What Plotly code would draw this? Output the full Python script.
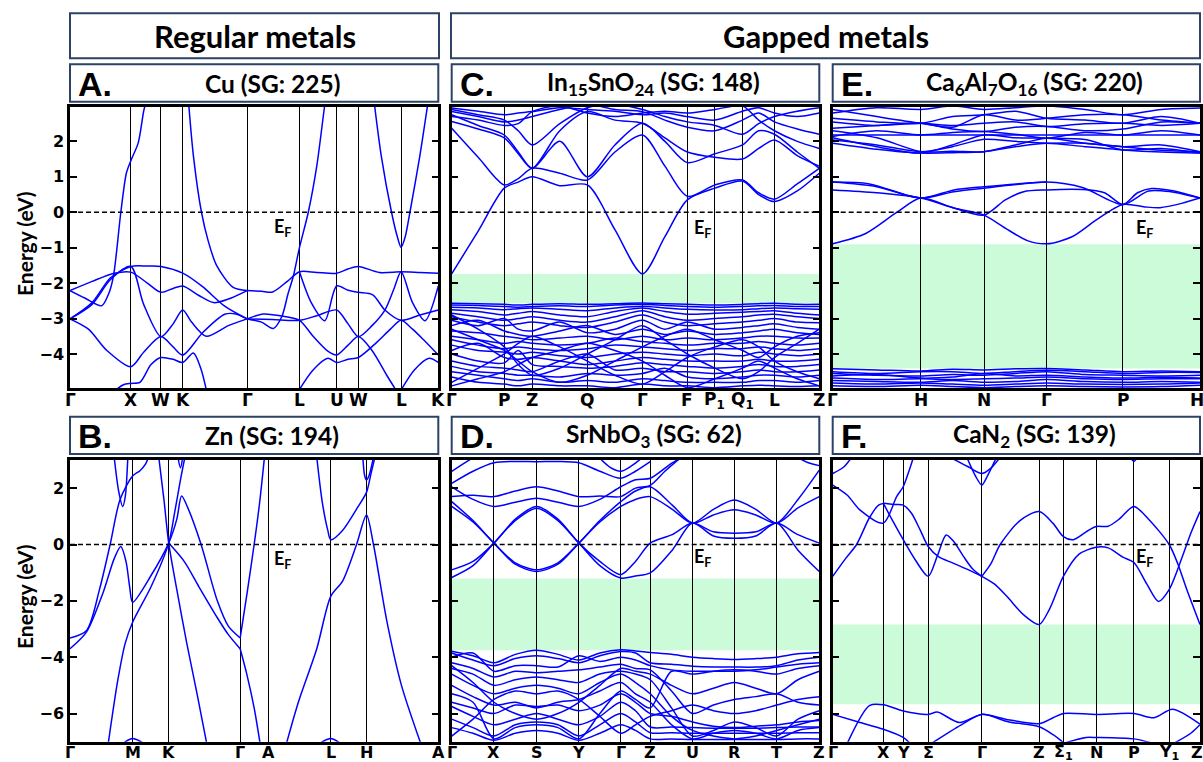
import plotly.graph_objects as go

W, H = 1203, 762
BAND_COLOR = "#0000ff"
GAP_COLOR = "#ccfbd9"
BOX_COLOR = "#2c4266"

# ---------------- A. Cu (SG: 225) ----------------
A_TICKS = [0.0, 0.165, 0.247, 0.306, 0.481, 0.623, 0.724, 0.783, 0.899, 1.0]
A_LABELS = ["Γ", "X", "W", "K", "Γ", "L", "U", "W", "L", "K"]
A_BANDS = [
    [(0, -2.21), (0.04, -2.42), (0.086, -2.64), (0.105, -2.3), (0.118, -1.8), (0.138, 0.0), (0.153, 1.1), (0.165, 1.45), (0.185, 1.95), (0.2, 2.85), (0.206, 3.1)],
    [(0, -2.21), (0.06, -1.95), (0.12, -1.72), (0.165, -1.69), (0.21, -2.0), (0.247, -2.26), (0.28, -2.15), (0.306, -2.08), (0.35, -2.35), (0.39, -2.55), (0.43, -2.45), (0.481, -2.21)],
    [(0, -3.01), (0.06, -2.55), (0.11, -1.85), (0.165, -1.53), (0.21, -1.52), (0.247, -1.53), (0.306, -1.72), (0.36, -2.1), (0.42, -2.65), (0.481, -3.01)],
    [(0, -3.01), (0.06, -2.6), (0.11, -1.9), (0.165, -1.53), (0.2, -2.6), (0.247, -3.51), (0.28, -3.15), (0.306, -2.76), (0.33, -3.1), (0.37, -3.5), (0.43, -3.2), (0.481, -3.01)],
    [(0, -3.01), (0.05, -3.3), (0.1, -3.9), (0.165, -4.36), (0.2, -3.95), (0.247, -3.51), (0.28, -3.8), (0.306, -4.03), (0.36, -3.4), (0.42, -2.88), (0.45, -2.87), (0.481, -3.01)],
    [(0.12, -5.05), (0.145, -4.87), (0.165, -4.83), (0.19, -4.8), (0.22, -4.3), (0.247, -4.1), (0.28, -4.15), (0.306, -4.24), (0.335, -3.97), (0.355, -4.4), (0.372, -5.1)],
    [(0.322, 3.1), (0.335, 1.6), (0.357, 0.0), (0.375, -0.8), (0.398, -1.5), (0.443, -2.12), (0.481, -2.21)],
    [(0.481, -2.21), (0.52, -2.23), (0.55, -2.25), (0.59, -1.95), (0.623, -1.68), (0.67, -1.7), (0.724, -1.72), (0.755, -1.6), (0.783, -1.53), (0.84, -1.7), (0.899, -1.68), (0.95, -1.7), (1.0, -1.72)],
    [(0.481, -3.01), (0.525, -2.87), (0.57, -2.92), (0.623, -3.05), (0.66, -3.5), (0.7, -3.92), (0.724, -4.03), (0.755, -3.75), (0.783, -3.51), (0.82, -3.9), (0.86, -4.6), (0.89, -5.1)],
    [(0.481, -3.01), (0.52, -3.1), (0.552, -3.28), (0.575, -2.95), (0.592, -2.3), (0.606, -1.82), (0.623, -1.0), (0.647, 0.0), (0.67, 1.3), (0.692, 3.05), (0.696, 3.3)],
    [(0.481, -3.01), (0.55, -3.03), (0.623, -3.05), (0.67, -2.92), (0.724, -2.76), (0.755, -3.15), (0.783, -3.51), (0.82, -3.2), (0.855, -2.76), (0.88, -2.15), (0.899, -1.68), (0.93, -2.55), (0.964, -3.06), (1.0, -2.08)],
    [(0.623, -1.68), (0.655, -2.55), (0.692, -3.06), (0.724, -2.08), (0.755, -2.2), (0.783, -2.26), (0.822, -2.33), (0.855, -2.76), (0.899, -3.05), (0.95, -2.9), (1.0, -2.76)],
    [(0.62, -5.05), (0.66, -4.45), (0.7, -4.12), (0.724, -4.24), (0.755, -4.15), (0.783, -4.1), (0.83, -3.7), (0.87, -3.3), (0.899, -3.05), (0.93, -3.3), (0.96, -3.6), (1.0, -4.03)],
    [(0.897, -5.05), (0.935, -4.45), (0.975, -4.12), (1.0, -4.24)],
    [(0.826, 3.1), (0.845, 1.6), (0.873, 0.0), (0.889, -0.7), (0.899, -0.99), (0.91, -0.7), (0.923, 0.0), (0.95, 1.6), (0.972, 3.1)],
]

# ---------------- B. Zn (SG: 194) ----------------
B_TICKS = [0.0, 0.170, 0.268, 0.462, 0.539, 0.708, 0.805, 1.0]
B_LABELS = ["Γ", "M", "K", "Γ", "A", "L", "H", "A"]
B_BANDS = [
    [(0, -3.32), (0.045, -3.05), (0.08, -1.6), (0.109, 0.0), (0.136, 1.6), (0.170, 2.43), (0.19, 2.62), (0.205, 2.85), (0.213, 3.1)],
    [(0, -3.70), (0.045, -3.1), (0.09, -1.7), (0.12, -0.5), (0.138, -0.07), (0.152, -0.6), (0.162, -1.5), (0.170, -2.05), (0.22, -1.1), (0.268, 0.05), (0.29, 0.9), (0.303, 1.72), (0.32, 1.3), (0.356, 0.0), (0.40, -2.0), (0.43, -2.9), (0.462, -3.32)],
    [(0.104, -7.05), (0.13, -4.8), (0.150, -3.5), (0.170, -2.76), (0.22, -1.5), (0.268, 0.05), (0.285, 1.2), (0.3, 2.3), (0.312, 3.1)],
    [(0.12, 3.1), (0.132, 1.9), (0.143, 1.35), (0.15, 1.7), (0.157, 3.1)],
    [(0.241, 3.1), (0.255, 1.6), (0.268, 0.05), (0.29, -1.6), (0.317, -3.5), (0.345, -5.3), (0.371, -7.05)],
    [(0.268, 0.05), (0.31, -0.6), (0.35, -1.5), (0.40, -2.6), (0.43, -3.2), (0.462, -3.70)],
    [(0.293, 3.1), (0.3, 2.72), (0.306, 3.1)],
    [(0.462, -3.32), (0.48, -1.8), (0.5, 0.0), (0.515, 1.5), (0.528, 3.1)],
    [(0.462, -3.70), (0.48, -4.6), (0.5, -5.8), (0.516, -7.05)],
    [(0.67, 3.1), (0.685, 1.5), (0.7, 0.5), (0.708, 0.17), (0.74, 0.5), (0.78, 1.3), (0.805, 1.85), (0.817, 2.5), (0.828, 3.1)],
    [(0.588, -7.05), (0.62, -5.6), (0.67, -3.7), (0.708, -1.84), (0.74, -1.3), (0.778, 0.0), (0.805, 1.05), (0.824, 0.0), (0.86, -2.7), (0.9, -5.0), (0.952, -7.05)],
    [(0.795, 3.1), (0.8, 2.45), (0.805, 2.29), (0.812, 2.45), (0.824, 3.1)],
    [(0.145, -7.05), (0.17, -6.89), (0.199, -7.05)],
    [(0.679, -7.05), (0.708, -6.89), (0.733, -7.05)],
]

# ---------------- C. In15SnO24 (SG: 148) ----------------
C_TICKS = [0.0, 0.143, 0.219, 0.369, 0.519, 0.641, 0.716, 0.791, 0.878, 1.0]
C_LABELS = ["Γ", "P", "Z", "Q", "Γ", "F", "P<sub>1</sub>", "Q<sub>1</sub>", "L", "Z"]
C_GRID = [0, 0.072, 0.143, 0.181, 0.219, 0.294, 0.369, 0.444, 0.519, 0.58, 0.641, 0.716, 0.791, 0.835, 0.878, 0.94, 1.0]
C_CONDUCTION = [
    [-1.74, -0.53, 0.68, 0.85, 1.0, 0.75, 0.77, -0.49, -1.74, -0.69, 0.35, 0.68, 0.88, 0.5, 0.30, 0.6, 1.1],
    [2.37, 1.55, 0.77, 0.95, 1.24, 1.1, 0.91, 1.7, 2.18, 1.3, 0.45, 0.77, 0.91, 0.55, 0.37, 0.8, 1.24],
    [2.75, 2.45, 2.18, 1.7, 1.24, 2.0, 1.0, 1.9, 2.51, 2.0, 1.4, 1.65, 1.9, 2.3, 2.2, 1.7, 1.24],
    [2.56, 2.35, 2.1, 1.65, 1.24, 2.3, 2.84, 2.6, 2.51, 2.1, 1.7, 1.55, 1.5, 1.8, 2.04, 1.6, 1.3],
    [2.84, 2.7, 2.55, 2.6, 2.7, 2.9, 3.05, 2.9, 2.84, 2.6, 2.4, 2.3, 2.6, 2.8, 2.55, 2.35, 2.2],
    [2.94, 2.85, 2.75, 2.8, 2.84, 2.95, 2.9, 2.85, 2.75, 2.8, 2.7, 2.6, 2.85, 2.95, 2.8, 2.7, 2.8],
    [2.9, 2.75, 2.6, 2.3, 1.9, 2.5, 2.95, 3.05, 2.9, 2.7, 2.55, 2.45, 2.2, 2.5, 2.7, 2.85, 2.95],
    [2.7, 2.6, 2.45, 2.5, 2.84, 3.0, 2.8, 2.7, 2.8, 2.85, 2.8, 2.9, 3.0, 2.6, 2.3, 2.0, 1.8],
]
C_VALENCE = [
    [-2.57, -2.58, -2.6, -2.62, -2.6, -2.58, -2.6, -2.58, -2.56, -2.58, -2.6, -2.62, -2.6, -2.58, -2.57, -2.6, -2.6],
    [-2.62, -2.63, -2.66, -2.68, -2.66, -2.64, -2.66, -2.62, -2.6, -2.63, -2.66, -2.68, -2.66, -2.64, -2.63, -2.66, -2.66],
    [-2.68, -2.7, -2.75, -2.72, -2.7, -2.74, -2.78, -2.7, -2.65, -2.7, -2.74, -2.76, -2.75, -2.72, -2.7, -2.72, -2.74],
    [-2.75, -2.8, -2.9, -2.85, -2.8, -2.9, -2.95, -2.8, -2.7, -2.8, -2.88, -2.85, -2.82, -2.8, -2.78, -2.85, -2.9],
    [-2.85, -2.95, -3.05, -3.0, -2.95, -3.05, -3.1, -2.95, -2.78, -2.95, -3.05, -3.0, -2.95, -2.9, -2.88, -2.95, -3.0],
    [-2.95, -3.1, -3.2, -3.15, -3.1, -3.2, -3.25, -3.1, -2.9, -3.1, -3.2, -3.15, -3.1, -3.05, -3.0, -3.1, -3.12],
    [-3.05, -3.2, -3.0, -3.3, -3.35, -3.1, -3.4, -3.3, -3.05, -3.3, -3.1, -3.3, -3.25, -3.2, -3.15, -3.25, -3.3],
    [-3.2, -3.05, -3.35, -3.45, -3.5, -3.35, -3.2, -3.45, -3.3, -3.45, -3.35, -3.45, -3.4, -3.35, -3.3, -3.4, -3.45],
    [-3.35, -3.4, -3.5, -3.55, -3.6, -3.55, -3.5, -3.6, -3.5, -3.6, -3.55, -3.6, -3.55, -3.5, -3.5, -3.55, -3.55],
    [-3.5, -3.6, -3.7, -3.65, -3.7, -3.75, -3.7, -3.55, -3.65, -3.7, -3.75, -3.7, -3.7, -3.65, -3.7, -3.75, -3.7],
    [-3.6, -3.75, -3.85, -3.8, -3.85, -3.9, -3.85, -3.75, -3.8, -3.85, -3.9, -3.85, -3.85, -3.8, -3.85, -3.9, -3.85],
    [-3.75, -3.9, -3.95, -4.0, -3.95, -4.05, -4.1, -4.0, -3.95, -4.0, -4.05, -4.0, -4.05, -3.95, -4.0, -4.05, -4.0],
    [-3.9, -3.7, -4.1, -4.15, -4.1, -4.2, -4.3, -4.2, -4.1, -4.15, -4.2, -4.2, -4.2, -4.15, -4.2, -4.2, -4.15],
    [-4.0, -4.2, -4.25, -3.9, -4.3, -4.35, -4.4, -4.35, -4.25, -4.3, -4.35, -4.4, -4.35, -4.3, -4.35, -4.35, -4.3],
    [-4.2, -4.35, -4.4, -4.45, -4.5, -4.2, -4.0, -4.45, -4.4, -4.5, -4.5, -4.55, -4.5, -4.45, -4.5, -4.5, -4.45],
    [-4.35, -4.5, -4.55, -4.6, -4.6, -4.65, -4.55, -4.6, -4.55, -4.4, -4.65, -4.7, -4.65, -4.6, -4.6, -4.65, -4.6],
    [-4.5, -4.6, -4.7, -4.75, -4.7, -4.8, -4.75, -4.8, -4.7, -4.75, -4.8, -4.8, -4.8, -4.75, -4.75, -4.8, -4.75],
    [-4.65, -4.8, -4.85, -4.9, -4.85, -4.9, -4.9, -4.95, -4.85, -4.9, -4.9, -4.95, -4.9, -4.88, -4.9, -4.92, -4.9],
    [-3.3, -3.6, -3.9, -4.2, -4.5, -4.8, -4.6, -4.2, -3.8, -3.5, -3.3, -3.6, -3.9, -4.1, -3.8, -3.5, -3.4],
    [-4.8, -4.4, -4.0, -3.7, -3.5, -3.8, -4.2, -4.6, -4.85, -4.5, -4.1, -3.8, -3.6, -3.8, -4.2, -4.5, -4.7],
    [-2.9, -3.3, -3.8, -4.3, -4.6, -4.4, -4.0, -3.6, -3.2, -3.6, -4.0, -4.4, -4.7, -4.5, -4.1, -3.7, -3.3],
    [-4.9, -4.7, -4.5, -4.3, -4.1, -3.9, -3.7, -3.9, -4.2, -4.6, -4.95, -4.7, -4.4, -4.2, -4.4, -4.7, -4.9],
]

# ---------------- D. SrNbO3 (SG: 62) ----------------
D_TICKS = [0.0, 0.115, 0.231, 0.346, 0.460, 0.540, 0.655, 0.769, 0.884, 1.0]
D_LABELS = ["Γ", "X", "S", "Y", "Γ", "Z", "U", "R", "T", "Z"]
D_BANDS = [
    [(0, -1.17), (0.058, -0.75), (0.115, 0.05), (0.173, 0.85), (0.231, 1.29), (0.289, 0.85), (0.346, 0.05), (0.403, -0.75), (0.46, -1.19), (0.50, -1.12), (0.54, -1.01), (0.60, -0.2), (0.655, 0.76), (0.712, 0.3), (0.769, 0.22), (0.827, 0.3), (0.884, 0.76), (0.942, -0.2), (1.0, -0.96)],
    [(0, -0.90), (0.058, -0.6), (0.115, 0.05), (0.173, 0.9), (0.231, 1.35), (0.289, 0.9), (0.346, 0.05), (0.403, -0.6), (0.46, -1.07), (0.50, -0.6), (0.54, 0.05), (0.60, 0.35), (0.655, 0.76), (0.712, 0.45), (0.769, 0.40), (0.827, 0.45), (0.884, 0.76), (0.942, 0.35), (1.0, 0.05)],
    [(0, 1.35), (0.058, 0.8), (0.115, 0.05), (0.173, -0.7), (0.231, -0.96), (0.289, -0.7), (0.346, 0.05), (0.403, 0.8), (0.46, 1.35), (0.50, 1.6), (0.54, 1.7), (0.60, 1.25), (0.655, 0.76), (0.712, 1.25), (0.769, 1.58), (0.827, 1.25), (0.884, 0.76), (0.942, 1.3), (1.0, 1.70)],
    [(0, 1.52), (0.058, 0.85), (0.115, 0.05), (0.173, -0.65), (0.231, -0.9), (0.289, -0.65), (0.346, 0.05), (0.403, 0.85), (0.46, 1.52), (0.50, 1.9), (0.54, 2.05), (0.60, 1.4), (0.655, 0.76), (0.712, 1.05), (0.769, 1.23), (0.827, 1.05), (0.884, 0.76), (0.942, 1.6), (1.0, 2.64)],
    [(0, 1.7), (0.058, 1.75), (0.115, 1.7), (0.173, 1.9), (0.231, 2.05), (0.289, 1.9), (0.346, 1.7), (0.403, 1.72), (0.46, 1.7), (0.50, 2.0), (0.54, 2.1), (0.58, 2.6), (0.62, 3.05)],
    [(0, 2.05), (0.058, 1.6), (0.115, 1.35), (0.173, 1.5), (0.231, 1.64), (0.289, 1.5), (0.346, 1.35), (0.403, 1.6), (0.46, 2.05), (0.50, 2.3), (0.54, 2.35), (0.60, 2.9), (0.63, 3.1)],
    [(0, 2.17), (0.058, 2.6), (0.115, 2.9), (0.173, 2.95), (0.231, 2.94), (0.289, 2.95), (0.346, 2.9), (0.403, 2.6), (0.46, 2.35), (0.50, 2.6), (0.54, 2.94)],
    [(0, 2.6), (0.03, 2.85), (0.06, 3.1)],
    [(0.40, 3.1), (0.43, 2.75), (0.46, 2.6), (0.49, 2.8), (0.52, 3.1)],
    [(0.94, 3.1), (0.97, 2.9), (1.0, 2.8)],
]
D_GRID = [0, 0.058, 0.115, 0.173, 0.231, 0.289, 0.346, 0.403, 0.46, 0.50, 0.54, 0.598, 0.655, 0.712, 0.769, 0.827, 0.884, 0.942, 1.0]
D_VALENCE = [
    [-3.79, -3.95, -4.2, -3.9, -3.75, -3.9, -4.1, -3.85, -3.74, -3.78, -3.83, -3.9, -4.0, -4.05, -4.08, -4.05, -4.0, -3.88, -3.83],
    [-3.85, -4.1, -4.3, -4.05, -3.95, -4.05, -4.2, -3.95, -3.8, -3.85, -4.2, -4.25, -4.32, -4.35, -4.35, -4.35, -4.3, -4.1, -4.0],
    [-4.0, -3.85, -4.5, -4.3, -4.3, -4.35, -3.95, -4.15, -4.0, -4.1, -4.3, -4.45, -4.5, -4.5, -4.5, -4.45, -4.35, -4.25, -4.2],
    [-4.2, -4.4, -4.7, -4.5, -4.55, -4.5, -4.45, -4.35, -4.25, -4.4, -4.45, -5.2, -6.0, -5.7, -5.5, -5.4, -5.3, -5.6, -5.7],
    [-4.4, -4.6, -5.0, -4.8, -4.7, -4.8, -4.9, -4.6, -4.5, -4.6, -4.8, -5.8, -6.8, -6.6, -6.3, -6.5, -6.8, -6.2, -5.9],
    [-4.6, -5.0, -5.3, -5.1, -5.0, -5.1, -5.3, -4.9, -4.6, -4.9, -5.3, -6.1, -6.6, -6.8, -6.9, -6.8, -6.6, -6.4, -6.2],
    [-5.0, -5.4, -5.7, -5.6, -5.8, -5.6, -5.5, -5.2, -4.9, -5.3, -5.6, -6.4, -6.9, -6.7, -6.6, -6.7, -6.9, -6.6, -6.5],
    [-5.6, -5.8, -6.0, -5.7, -5.75, -5.7, -5.9, -5.7, -5.3, -5.6, -6.0, -6.1, -6.3, -6.45, -6.5, -6.45, -6.4, -6.3, -6.25],
    [-5.75, -6.1, -6.4, -6.2, -6.0, -6.2, -6.4, -6.1, -5.6, -5.9, -6.48, -6.48, -6.5, -6.52, -6.52, -6.52, -6.5, -6.48, -6.48],
    [-6.2, -6.5, -6.8, -6.4, -6.3, -6.4, -6.8, -6.4, -6.0, -6.3, -6.68, -6.68, -6.7, -6.7, -6.7, -6.7, -6.7, -6.68, -6.68],
    [-6.5, -6.7, -6.95, -6.7, -6.6, -6.7, -6.95, -6.7, -6.4, -6.6, -6.9, -6.9, -6.92, -6.92, -6.92, -6.92, -6.92, -6.9, -6.9],
    [-4.3, -4.9, -5.6, -6.0, -6.2, -6.0, -5.6, -5.0, -4.4, -4.5, -4.6, -5.0, -5.3, -5.1, -4.9, -5.1, -5.3, -4.8, -4.5],
    [-6.8, -6.2, -5.5, -5.2, -5.3, -5.2, -5.5, -6.1, -6.7, -6.4, -6.1, -5.9, -5.7, -5.9, -6.0, -5.9, -5.7, -5.5, -5.4],
    [-5.3, -5.6, -6.9, -6.5, -6.4, -6.5, -6.9, -6.0, -5.2, -5.5, -5.8, -4.5, -4.6, -4.5, -4.45, -4.5, -4.6, -4.4, -4.3],
]

# ---------------- E. Ca6Al7O16 (SG: 220) ----------------
E_TICKS = [0.0, 0.240, 0.412, 0.583, 0.790, 1.0]
E_LABELS = ["Γ", "H", "N", "Γ", "P", "H"]
E_BANDS = [
    [(0, -0.89), (0.09, -0.6), (0.175, 0.0), (0.240, 0.40), (0.33, 0.12), (0.412, -0.08), (0.47, -0.45), (0.53, -0.8), (0.583, -0.89), (0.65, -0.7), (0.72, -0.2), (0.790, 0.22), (0.85, 0.15), (0.891, 0.13), (0.95, 0.25), (1.0, 0.40)],
    [(0, 0.63), (0.12, 0.55), (0.240, 0.40), (0.33, 0.12), (0.412, -0.08), (0.47, 0.35), (0.52, 0.58), (0.583, 0.63), (0.68, 0.64), (0.74, 0.55), (0.790, 0.22), (0.83, 0.55), (0.868, 0.67), (0.93, 0.6), (1.0, 0.40)],
    [(0, 0.85), (0.12, 0.72), (0.240, 0.40), (0.33, 0.58), (0.412, 0.68), (0.5, 0.78), (0.583, 0.85), (0.68, 0.7), (0.790, 0.22), (0.86, 0.6), (0.92, 0.58), (1.0, 0.40)],
    [(0, 0.85), (0.1, 0.8), (0.240, 0.40), (0.33, 0.63), (0.412, 0.72), (0.5, 0.8), (0.583, 0.85)],
]
E_GRID = [0, 0.12, 0.24, 0.326, 0.412, 0.4975, 0.583, 0.6865, 0.79, 0.895, 1.0]
E_UPPER = [
    [2.8, 2.95, 2.9, 3.0, 2.9, 2.95, 3.0, 2.9, 2.75, 2.9, 2.94],
    [2.65, 2.55, 2.51, 2.7, 2.75, 2.85, 2.65, 2.6, 2.51, 2.7, 2.51],
    [2.55, 2.45, 2.51, 2.45, 2.51, 2.55, 2.42, 2.5, 2.51, 2.45, 2.51],
    [2.37, 2.45, 2.51, 2.35, 2.28, 2.4, 2.42, 2.3, 2.35, 2.55, 2.51],
    [2.18, 2.18, 2.18, 2.18, 2.18, 2.18, 2.18, 2.18, 2.18, 2.18, 2.18],
    [2.14, 2.3, 2.18, 2.25, 2.28, 2.2, 2.09, 2.25, 2.18, 2.3, 2.18],
    [2.04, 1.9, 1.71, 1.85, 2.06, 2.0, 1.95, 1.95, 1.85, 1.9, 1.71],
    [2.1, 1.85, 1.67, 1.9, 2.18, 2.1, 2.09, 2.05, 1.76, 1.8, 1.67],
    [2.3, 2.1, 1.71, 1.72, 1.71, 1.9, 2.09, 1.95, 1.85, 1.75, 1.71],
    [1.95, 1.78, 1.67, 1.68, 1.71, 1.85, 1.95, 1.85, 1.76, 1.7, 1.67],
    [2.9, 2.7, 2.51, 2.4, 2.75, 2.6, 2.65, 2.75, 2.75, 2.6, 2.51],
]
E_LOWER = [
    [-4.42, -4.45, -4.48, -4.43, -4.45, -4.42, -4.41, -4.45, -4.5, -4.48, -4.5],
    [-4.5, -4.55, -4.5, -4.5, -4.55, -4.5, -4.46, -4.5, -4.55, -4.52, -4.52],
    [-4.55, -4.6, -4.62, -4.58, -4.6, -4.55, -4.5, -4.58, -4.6, -4.62, -4.6],
    [-4.62, -4.58, -4.68, -4.65, -4.55, -4.62, -4.6, -4.65, -4.68, -4.66, -4.68],
    [-4.68, -4.72, -4.7, -4.72, -4.7, -4.68, -4.65, -4.7, -4.72, -4.7, -4.7],
    [-4.75, -4.78, -4.8, -4.75, -4.8, -4.78, -4.72, -4.78, -4.8, -4.78, -4.8],
    [-4.82, -4.85, -4.82, -4.85, -4.88, -4.85, -4.82, -4.85, -4.86, -4.85, -4.82],
    [-4.9, -4.92, -4.88, -4.92, -4.95, -4.92, -4.9, -4.92, -4.93, -4.92, -4.88],
]

# ---------------- F. CaN2 (SG: 139) ----------------
F_TICKS = [0.0, 0.138, 0.192, 0.260, 0.406, 0.562, 0.628, 0.717, 0.820, 0.916, 1.0]
F_LABELS = ["Γ", "X", "Y", "Σ", "Γ", "Z", "Σ<sub>1</sub>", "N", "P", "Y<sub>1</sub>", "Z"]
F_BANDS = [
    [(0, 2.52), (0.03, 2.75), (0.052, 3.1)],
    [(0, 2.11), (0.04, 1.75), (0.074, 1.23), (0.138, 0.76), (0.174, 1.7), (0.192, 2.05), (0.21, 2.7), (0.22, 3.1)],
    [(0, -1.13), (0.035, -0.5), (0.065, 0.0), (0.1, 0.95), (0.125, 1.4), (0.138, 1.46), (0.165, 1.42), (0.192, 1.40), (0.215, 1.1), (0.238, 0.52), (0.26, -0.07), (0.29, -0.45), (0.328, -0.66), (0.37, -0.9), (0.406, -1.13)],
    [(0.138, 1.46), (0.165, 0.8), (0.192, 0.17), (0.225, -0.55), (0.26, -1.13), (0.285, -0.4), (0.309, 0.34), (0.33, 0.1), (0.356, -0.42), (0.38, -0.85), (0.406, -1.13)],
    [(0.406, -1.13), (0.44, -1.4), (0.474, -1.84), (0.52, -2.5), (0.562, -2.84), (0.59, -2.3), (0.628, -1.13), (0.67, -0.35), (0.717, -0.1), (0.75, -0.12), (0.79, -0.45), (0.82, -0.64), (0.855, -1.4), (0.887, -2.02), (0.916, -1.6), (0.95, -0.5), (0.975, 0.4), (1.0, 1.17)],
    [(0.406, -1.13), (0.43, -0.7), (0.456, 0.0), (0.51, 0.85), (0.562, 1.17), (0.6, 0.75), (0.628, 0.28), (0.655, 0.17), (0.69, 0.45), (0.717, 0.64), (0.75, 0.65), (0.78, 0.9), (0.82, 1.35), (0.86, 0.9), (0.916, 0.0), (0.94, -0.7), (0.964, -1.6), (1.0, -2.84)],
    [(0.319, 3.1), (0.37, 2.75), (0.406, 2.52), (0.43, 2.7), (0.456, 3.1)],
    [(0.365, 3.1), (0.39, 2.4), (0.406, 2.11), (0.42, 2.4), (0.446, 3.1)],
    [(0.81, 3.1), (0.82, 2.95), (0.83, 3.1)],
    [(0, -6.03), (0.07, -6.3), (0.138, -6.56), (0.192, -6.85), (0.21, -7.05)],
    [(0.04, -7.05), (0.1, -5.72), (0.138, -5.69), (0.192, -5.91), (0.26, -6.03), (0.285, -5.95), (0.345, -6.32), (0.406, -6.03), (0.47, -6.2), (0.562, -6.36), (0.60, -6.15), (0.628, -6.0), (0.717, -6.03), (0.82, -6.0), (0.875, -6.15), (0.925, -5.85), (1.0, -6.38)],
    [(0.27, -7.05), (0.35, -6.4), (0.406, -6.03), (0.48, -6.3), (0.562, -6.47), (0.60, -6.75), (0.63, -7.05)],
    [(0.63, -7.05), (0.69, -6.85), (0.717, -6.85), (0.82, -6.9), (0.87, -7.05)],
    [(0.93, -7.05), (0.975, -6.7), (1.0, -6.4)],
]

# gap windows (conduction-band bottom, valence-band top)
C_GAP = (-1.74, -2.57)
D_GAP = (-1.21, -3.75)
E_GAP = (-0.90, -4.41)
F_GAP = (-2.84, -5.67)

TOP_RANGE = [-4.96, 2.97]
BOT_RANGE = [-7.0, 3.0]


def px_x(px):
    return px / W


def px_y(py):
    return 1 - py / H


COLS = [(70, 438.3), (451.7, 819.3), (832.7, 1200)]
ROWS = [(107, 388), (460, 741.7)]
KLABEL_Y = [400, 752.5]

panels = [
    dict(letter="A.", title="Cu (SG: 225)", col=0, row=0, ticks=A_TICKS, labels=A_LABELS,
         bands=A_BANDS, grid=None, grid_bands=[], gap=None, ef=(0.578, -0.42)),
    dict(letter="C.", title="In<sub>15</sub>SnO<sub>24</sub> (SG: 148)", col=1, row=0, ticks=C_TICKS,
         labels=C_LABELS, bands=[], grid=C_GRID, grid_bands=C_CONDUCTION + C_VALENCE, gap=C_GAP,
         ef=(0.684, -0.45)),
    dict(letter="E.", title="Ca<sub>6</sub>Al<sub>7</sub>O<sub>16</sub> (SG: 220)", col=2, row=0,
         ticks=E_TICKS, labels=E_LABELS, bands=E_BANDS, grid=E_GRID, grid_bands=E_UPPER + E_LOWER,
         gap=E_GAP, ef=(0.85, -0.45)),
    dict(letter="B.", title="Zn (SG: 194)", col=0, row=1, ticks=B_TICKS, labels=B_LABELS,
         bands=B_BANDS, grid=None, grid_bands=[], gap=None, ef=(0.578, -0.54)),
    dict(letter="D.", title="SrNbO<sub>3</sub> (SG: 62)", col=1, row=1, ticks=D_TICKS, labels=D_LABELS,
         bands=D_BANDS, grid=D_GRID, grid_bands=D_VALENCE, gap=D_GAP, ef=(0.684, -0.47)),
    dict(letter="F.", title="CaN<sub>2</sub> (SG: 139)", col=2, row=1, ticks=F_TICKS, labels=F_LABELS,
         bands=F_BANDS, grid=None, grid_bands=[], gap=F_GAP, ef=(0.85, -0.47)),
]

fig = go.Figure()
shapes = []
annotations = []
line_style = dict(color=BAND_COLOR, width=1.5, shape="spline", smoothing=0.8)
tick_font = dict(family="DejaVu Sans", size=16, color="black", weight="bold")
klabel_fonts = [dict(family="DejaVu Sans", size=17, color="black", weight="bold"),
                dict(family="DejaVu Sans", size=16, color="black", weight="bold")]
title_font = dict(family="Lato, Open Sans", size=24.5, color="black", weight="bold")
letter_font = dict(family="Liberation Sans, Arial", size=34, color="black", weight="bold")

for i, p in enumerate(panels, start=1):
    xa = "x" if i == 1 else f"x{i}"
    ya = "y" if i == 1 else f"y{i}"
    x0, x1 = COLS[p["col"]]
    y0, y1 = ROWS[p["row"]]
    yrange = TOP_RANGE if p["row"] == 0 else BOT_RANGE
    yticks = [2, 1, 0, -1, -2, -3, -4] if p["row"] == 0 else [2, 0, -2, -4, -6]

    for band in p["bands"]:
        ks = [pt[0] for pt in band]
        es = [pt[1] for pt in band]
        fig.add_trace(go.Scatter(x=ks, y=es, xaxis=xa, yaxis=ya, mode="lines", line=line_style,
                                 hoverinfo="skip", showlegend=False))
    for es in p["grid_bands"]:
        fig.add_trace(go.Scatter(x=p["grid"], y=es, xaxis=xa, yaxis=ya, mode="lines", line=line_style,
                                 hoverinfo="skip", showlegend=False))

    fig.layout[("xaxis" if i == 1 else f"xaxis{i}")] = dict(
        domain=[px_x(x0), px_x(x1)], range=[0, 1], anchor=ya,
        tickmode="array", tickvals=p["ticks"], ticks="", showticklabels=False,
        showgrid=True, gridcolor="black", gridwidth=1.4,
        showline=True, mirror=True, linecolor="black", linewidth=2.5, zeroline=False,
        automargin=False, fixedrange=True,
    )
    fig.layout[("yaxis" if i == 1 else f"yaxis{i}")] = dict(
        domain=[px_y(y1), px_y(y0)], range=yrange, anchor=xa,
        tickmode="array", tickvals=yticks, ticks="inside", ticklen=7, tickwidth=2,
        tickcolor="black", showticklabels=(p["col"] == 0), tickfont=tick_font,
        showgrid=False, showline=True, mirror="ticks", linecolor="black", linewidth=2.5,
        zeroline=False, automargin=False, fixedrange=True,
    )

    # high-symmetry point labels under the k-path
    for kv, lab in zip(p["ticks"], p["labels"]):
        lx = min(x0 + kv * (x1 - x0), W - 6)
        annotations.append(dict(x=px_x(lx), y=px_y(KLABEL_Y[p["row"]]), xref="paper", yref="paper",
                                text=lab, showarrow=False, xanchor="center", yanchor="middle",
                                borderpad=0, font=klabel_fonts[p["row"]]))

    # band-gap window
    if p["gap"] is not None:
        shapes.append(dict(type="rect", xref=f"{xa} domain", yref=ya, x0=0, x1=1,
                           y0=p["gap"][1], y1=p["gap"][0], fillcolor=GAP_COLOR,
                           line=dict(width=0), layer="below"))
    # Fermi level
    shapes.append(dict(type="line", xref=f"{xa} domain", yref=ya, x0=0, x1=1, y0=0, y1=0,
                       line=dict(color="black", width=1.5, dash="5px,3px"), layer="above"))
    annotations.append(dict(x=p["ef"][0], y=p["ef"][1], xref=xa, yref=ya, text="E<sub>F</sub>",
                            showarrow=False, font=dict(family="Lato, Open Sans", size=18,
                                                       color="black", weight="bold")))

    # panel title box
    by0 = 64.3 if p["row"] == 0 else 416.7
    by1 = 101.7 if p["row"] == 0 else 454
    shapes.append(dict(type="rect", xref="paper", yref="paper", x0=px_x(x0), x1=px_x(x1),
                       y0=px_y(by1), y1=px_y(by0), line=dict(color=BOX_COLOR, width=2),
                       fillcolor="white", layer="above"))
    annotations.append(dict(x=px_x(x0 + 6), y=px_y((by0 + by1) / 2 + 1), xref="paper", yref="paper",
                            text=p["letter"], showarrow=False, xanchor="left", yanchor="middle",
                            font=letter_font))
    annotations.append(dict(x=px_x((x0 + x1) / 2 + 18), y=px_y((by0 + by1) / 2), xref="paper",
                            yref="paper", text=p["title"], showarrow=False, xanchor="center",
                            yanchor="middle", font=title_font))

# group headers
for (hx0, hx1), label in [((70, 439), "Regular metals"), ((451, 1200), "Gapped metals")]:
    shapes.append(dict(type="rect", xref="paper", yref="paper", x0=px_x(hx0), x1=px_x(hx1),
                       y0=px_y(58.3), y1=px_y(13.3), line=dict(color=BOX_COLOR, width=2),
                       fillcolor="white", layer="above"))
    annotations.append(dict(x=px_x((hx0 + hx1) / 2), y=px_y(36), xref="paper", yref="paper",
                            text=label, showarrow=False, xanchor="center", yanchor="middle",
                            font=dict(family="Lato, Open Sans", size=31, color="black", weight="bold")))

# energy axis titles
for cy in (244, 597):
    annotations.append(dict(x=px_x(24), y=px_y(cy), xref="paper", yref="paper", text="Energy (eV)",
                            textangle=-90, showarrow=False, xanchor="center", yanchor="middle",
                            font=dict(family="Lato, Open Sans", size=21, color="black", weight="bold")))

fig.update_layout(
    width=W, height=H, margin=dict(l=0, r=0, t=0, b=0),
    paper_bgcolor="white", plot_bgcolor="white",
    shapes=shapes, annotations=annotations, showlegend=False,
)

fig.write_html("out.html")
